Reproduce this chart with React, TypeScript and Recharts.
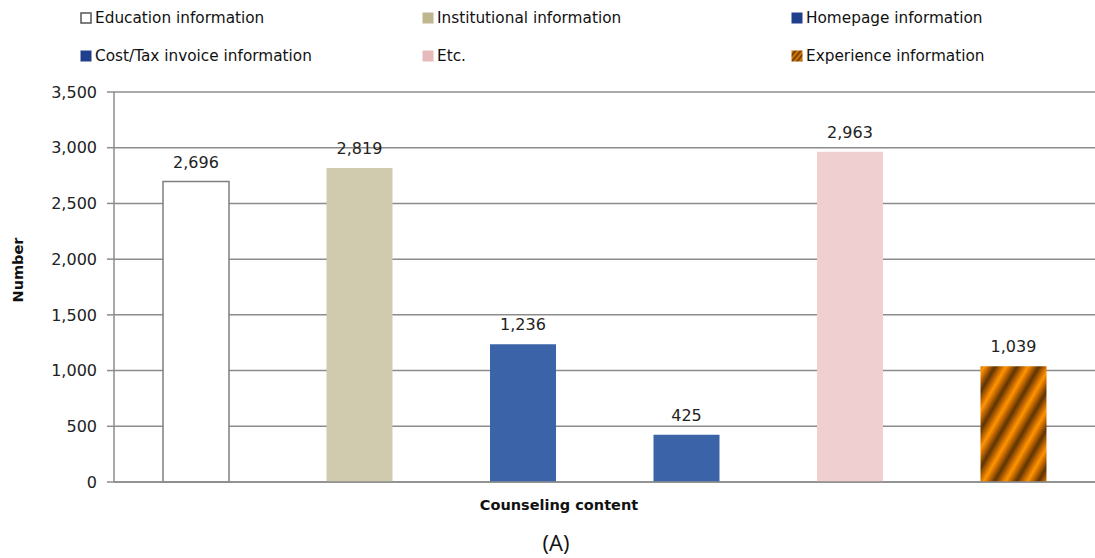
import React from 'react';
import { BarChart, Bar, XAxis, YAxis, CartesianGrid, Cell, LabelList, Label } from 'recharts';

const categories = [
  'Education information',
  'Institutional information',
  'Homepage information',
  'Cost/Tax invoice information',
  'Etc.',
  'Experience information',
];
const values = [2696, 2819, 1236, 425, 2963, 1039];
const yTicks = [0, 500, 1000, 1500, 2000, 2500, 3000, 3500];
const barFills = ['#FFFFFF', '#D0CBAE', '#3A63A8', '#3A63A8', '#EFCFD0', 'url(#stripes)'];
const legendFills = ['#FFFFFF', '#BDB68F', '#1F3F8C', '#1F3F8C', '#E6B9BB', 'url(#legendStripes)'];
const legendOrder = [0, 1, 2, 3, 4, 5];
const legendCols = [80, 422, 791];
const legendRows = [18, 56];

const data = categories.map((name, i) => ({ name, value: values[i] }));

const FONT = 'DejaVu Sans, Verdana, sans-serif';
const fmt = (v: number) => v.toLocaleString('en-US');

function LegendSwatch({ i }: { i: number }) {
  return (
    <svg width={12} height={12} style={{ display: 'block' }}>
      <defs>
        <linearGradient id="legendGrad" x1="0" y1="0" x2="1" y2="0">
          <stop offset="0" stopColor="#4A2A05" />
          <stop offset="0.5" stopColor="#FF8C00" />
          <stop offset="1" stopColor="#4A2A05" />
        </linearGradient>
        <pattern id="legendStripes" patternUnits="userSpaceOnUse" width="4" height="4" patternTransform="rotate(40)">
          <rect width="4" height="4" fill="url(#legendGrad)" />
        </pattern>
      </defs>
      <rect
        x={i === 0 ? 1 : 0.5}
        y={i === 0 ? 1 : 0.5}
        width={i === 0 ? 10 : 11}
        height={i === 0 ? 10 : 11}
        fill={legendFills[i]}
        stroke={i === 0 ? '#555' : 'none'}
        strokeWidth={1.5}
      />
    </svg>
  );
}

export default function App() {
  return (
    <div style={{ position: 'absolute', left: 0, top: 0, width: 1095, height: 558, background: '#fff' }}>
      <BarChart width={1095} height={558} data={data} margin={{ top: 92, right: 0, bottom: 0, left: 0 }}>
        <defs>
          <linearGradient id="stripeGrad" x1="0" y1="0" x2="1" y2="0">
            <stop offset="0" stopColor="#5C3303" />
            <stop offset="0.3" stopColor="#C86A00" />
            <stop offset="0.5" stopColor="#FF9500" />
            <stop offset="0.7" stopColor="#C86A00" />
            <stop offset="1" stopColor="#5C3303" />
          </linearGradient>
          <pattern id="stripes" patternUnits="userSpaceOnUse" width="19" height="19" patternTransform="rotate(30)">
            <rect width="19" height="19" fill="url(#stripeGrad)" />
          </pattern>
        </defs>
        <CartesianGrid vertical={false} stroke="#8C8C8C" strokeWidth={1.5} />
        <XAxis
          dataKey="name"
          tick={false}
          tickLine={false}
          axisLine={{ stroke: '#8C8C8C', strokeWidth: 1.5 }}
          height={76}
        >
          <Label
            content={() => (
              <g>
                <text x={559} y={510} textAnchor="middle" fontFamily={FONT} fontWeight="bold" fontSize={14.5} fill="#111">
                  Counseling content
                </text>
                <text x={556} y={551} textAnchor="middle" fontFamily="Open Sans, sans-serif" fontSize={22} fill="#111">
                  (A)
                </text>
              </g>
            )}
          />
        </XAxis>
        <YAxis
          width={114}
          domain={[0, 3500]}
          ticks={yTicks}
          interval={0}
          tickFormatter={fmt}
          tickSize={7}
          tickMargin={10}
          tickLine={{ stroke: '#8C8C8C', strokeWidth: 1.5 }}
          axisLine={{ stroke: '#8C8C8C', strokeWidth: 1.5 }}
          tick={{ fill: '#222', fontSize: 16, fontFamily: FONT }}
        >
          <Label
            content={() => (
              <text
                x={18}
                y={270}
                transform="rotate(-90,18,270)"
                textAnchor="middle"
                dominantBaseline="central"
                fontFamily={FONT}
                fontWeight="bold"
                fontSize={14.5}
                fill="#111"
              >
                Number
              </text>
            )}
          />
        </YAxis>
        <Bar dataKey="value" barSize={66} isAnimationActive={false}>
          {data.map((d, i) => (
            <Cell
              key={d.name}
              fill={barFills[i]}
              stroke={i === 0 ? '#7F7F7F' : 'none'}
              strokeWidth={i === 0 ? 1.5 : 0}
            />
          ))}
          <LabelList
            dataKey="value"
            position="top"
            offset={14}
            formatter={(v: any) => fmt(Number(v))}
            style={{ fill: '#222', fontSize: 16, fontFamily: FONT }}
          />
        </Bar>
      </BarChart>
      {legendOrder.map((i) => {
        const col = i % 3;
        const row = Math.floor(i / 3);
        return (
          <div
            key={categories[i]}
            style={{
              position: 'absolute',
              left: legendCols[col],
              top: legendRows[row] - 10,
              height: 20,
              display: 'flex',
              alignItems: 'center',
              fontFamily: FONT,
              fontSize: 15.3,
              color: '#111',
              whiteSpace: 'nowrap',
            }}
          >
            <LegendSwatch i={i} />
            <span style={{ marginLeft: 3 }}>{categories[i]}</span>
          </div>
        );
      })}
    </div>
  );
}
